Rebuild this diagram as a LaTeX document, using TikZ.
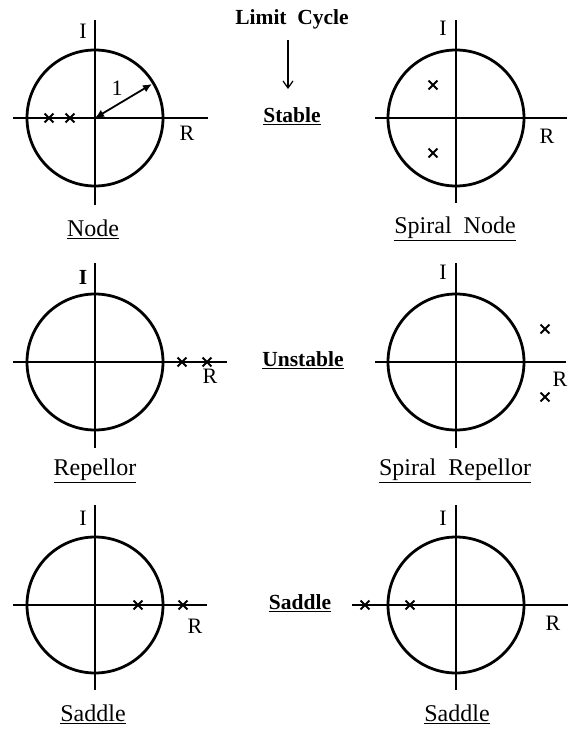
\documentclass[tikz,border=0pt]{standalone}
\usepackage{fontspec}
\setmainfont{Liberation Serif}
\usetikzlibrary{arrows.meta, shapes.misc}

\tikzset{
  axis/.style={line width=1.6pt},
  unitcircle/.style={line width=2.8pt},
  pole/.style={cross out, draw, line width=1.8pt, minimum size=7pt, inner sep=0pt},
  lbl/.style={font=\fontsize{22}{26}\selectfont},
  caption/.style={font=\fontsize{24}{28}\selectfont},
  title/.style={font=\fontsize{21.5}{26}\selectfont\bfseries}
}

\begin{document}
\begin{tikzpicture}[x=1pt, y=-1pt]
    \useasboundingbox (0,0) rectangle (574,729);

    % Plane centres
    \coordinate (c1) at (95,118);
    \coordinate (c2) at (456,118);
    \coordinate (c3) at (95,362);
    \coordinate (c4) at (456,362);
    \coordinate (c5) at (95,605);
    \coordinate (c6) at (456,605);

    % Unit circles
    \foreach \c in {c1,c2,c3,c4,c5,c6}
        \draw[unitcircle] (\c) circle [radius=68pt];

    % Axes
    \draw[axis] (95,20) -- (95,205);
    \draw[axis] (13,118) -- (208,118);
    \draw[axis] (456,20) -- (456,203);
    \draw[axis] (375,118) -- (567,118);
    \draw[axis] (95,263) -- (95,448);
    \draw[axis] (13,362) -- (227,362);
    \draw[axis] (456,263) -- (456,448);
    \draw[axis] (375,362) -- (566,362);
    \draw[axis] (95,505) -- (95,690);
    \draw[axis] (13,605) -- (207,605);
    \draw[axis] (456,505) -- (456,690);
    \draw[axis] (352,605) -- (568,605);

    % Poles
    \node[pole] (p1a) at (49,118) {};
    \node[pole] (p1b) at (70,118) {};
    \node[pole] (p2a) at (433,85) {};
    \node[pole] (p2b) at (433,153) {};
    \node[pole] (p3a) at (182,362) {};
    \node[pole] (p3b) at (207,362) {};
    \node[pole] (p4a) at (545,329) {};
    \node[pole] (p4b) at (545,397) {};
    \node[pole] (p5a) at (138,605) {};
    \node[pole] (p5b) at (183,605) {};
    \node[pole] (p6a) at (365,605) {};
    \node[pole] (p6b) at (410,605) {};

    % Radius
    \coordinate (rim) at (152,84);
    \draw[line width=1.8pt, {Latex[length=9pt,width=8pt]}-{Latex[length=9pt,width=8pt]}] (c1) -- (rim);
    \node[lbl] (one) at (117,88) {1};

    % Axis labels
    \node[lbl] (i1) at (83,31) {I};
    \node[lbl] (r1) at (187,133) {R};
    \node[lbl] (i2) at (443,28) {I};
    \node[lbl] (r2) at (547,136) {R};
    \node[title] (i3) at (83,277) {I};
    \node[lbl] (r3) at (210,376) {R};
    \node[lbl] (i4) at (443,272) {I};
    \node[lbl] (r4) at (560,379) {R};
    \node[lbl] (i5) at (83,518) {I};
    \node[lbl] (r5) at (195,626) {R};
    \node[lbl] (i6) at (443,518) {I};
    \node[lbl] (r6) at (553,623) {R};

    % Captions
    \node[caption] (cap1) at (93,229) {\underline{Node}};
    \node[caption] (cap2) at (455,229) {\underline{Spiral\ \ Node}};
    \node[caption] (cap3) at (95,471) {\underline{Repellor}};
    \node[caption] (cap4) at (455,471) {\underline{Spiral\ \ Repellor}};
    \node[caption] (cap5) at (93,714) {\underline{Saddle}};
    \node[caption] (cap6) at (457,714) {\underline{Saddle}};

    % Middle column
    \node[title] (limit) at (292,19) {Limit\ \ Cycle};
    \node[title] (stable) at (292,116) {\underline{Stable}};
    \node[title] (unstable) at (303,360) {\underline{Unstable}};
    \node[title] (saddle) at (300,603) {\underline{Saddle}};
    \draw[line width=1.2pt, -{Straight Barb[length=7pt,width=10pt]}] (288,40) -- (288,89);
\end{tikzpicture}
\end{document}
